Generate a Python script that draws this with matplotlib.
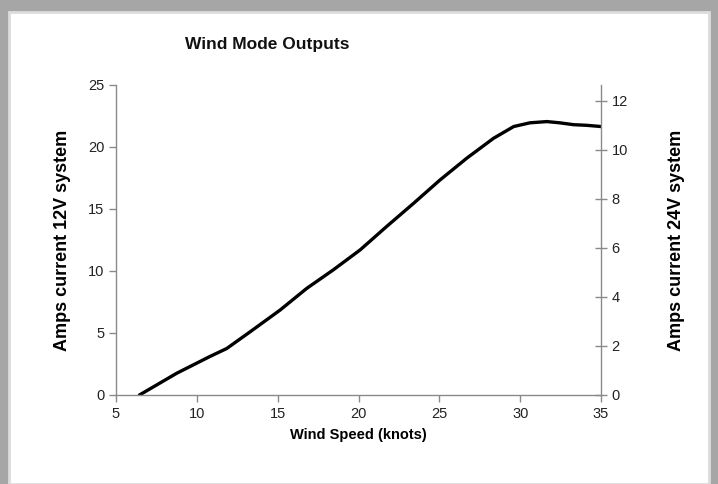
import matplotlib.pyplot as plt
from matplotlib.patches import Rectangle

plt.rcParams['font.family'] = ['Liberation Sans', 'DejaVu Sans']

# wind speed (knots) vs amps on the 12V system
wind_speed = [6.45, 8.75, 10.8, 11.85, 13.3, 15.15, 16.8, 18.45, 20.1, 21.75,
              23.4, 25.05, 26.7, 28.35, 29.6, 30.6, 31.65, 32.45, 33.3, 34.1, 35.0]
amps_12v = [0.0, 1.75, 3.1, 3.75, 5.1, 6.85, 8.6, 10.1, 11.7, 13.6,
            15.45, 17.35, 19.1, 20.7, 21.65, 21.95, 22.05, 21.95, 21.8, 21.75, 21.65]

x_ticks = [5, 10, 15, 20, 25, 30, 35]
left_ticks = [0, 5, 10, 15, 20, 25]
right_ticks = [0, 2, 4, 6, 8, 10, 12]

axis_grey = "#8a8a8a"

fig = plt.figure(figsize=(7.18, 4.84), dpi=100)
fig.patch.set_facecolor("#a6a6a6")
# white chart area inside the grey frame
fig.patches.append(Rectangle((9 / 718, 0), 700 / 718, 472 / 484, transform=fig.transFigure,
                             facecolor="white", edgecolor="#dcdcdc", linewidth=2, zorder=-10))

ax = fig.add_axes([116 / 718, 89 / 484, 485 / 718, 310 / 484])
ax.set_facecolor("none")
ax.plot(wind_speed, amps_12v, color="black", linewidth=2.4, solid_capstyle="round",
        solid_joinstyle="round")

ax.set_xlim(5, 35)
ax.set_ylim(0, 25)
ax.set_xticks(x_ticks)
ax.set_yticks(left_ticks)
for s in ["top", "right"]:
    ax.spines[s].set_visible(False)
for s in ["left", "bottom"]:
    ax.spines[s].set_color(axis_grey)
    ax.spines[s].set_linewidth(1.0)
ax.tick_params(axis="both", colors=axis_grey, labelcolor="#222222", labelsize=10.5,
               length=5, width=1.0, direction="out")
ax.set_xlabel("Wind Speed (knots)", fontsize=10.5, fontweight="bold", labelpad=5)
ax.set_ylabel("Amps current 12V system", fontsize=13, fontweight="bold", labelpad=12)

ax2 = ax.twinx()
ax2.set_ylim(0, 12.65)
ax2.set_yticks(right_ticks)
for s in ["top", "left", "bottom"]:
    ax2.spines[s].set_visible(False)
ax2.spines["right"].set_color(axis_grey)
ax2.spines["right"].set_linewidth(1.0)
ax2.tick_params(axis="y", colors=axis_grey, labelcolor="#222222", labelsize=10.5,
                length=8, width=1.0, direction="inout")
ax2.set_ylabel("Amps current 24V system", fontsize=13, fontweight="bold", labelpad=29)

fig.text(267 / 718, 1 - 45 / 484, "Wind Mode Outputs", ha="center", va="center",
         fontsize=12.5, fontweight="bold", color="#111111")

fig.savefig("out.png", dpi=100, facecolor=fig.get_facecolor())
